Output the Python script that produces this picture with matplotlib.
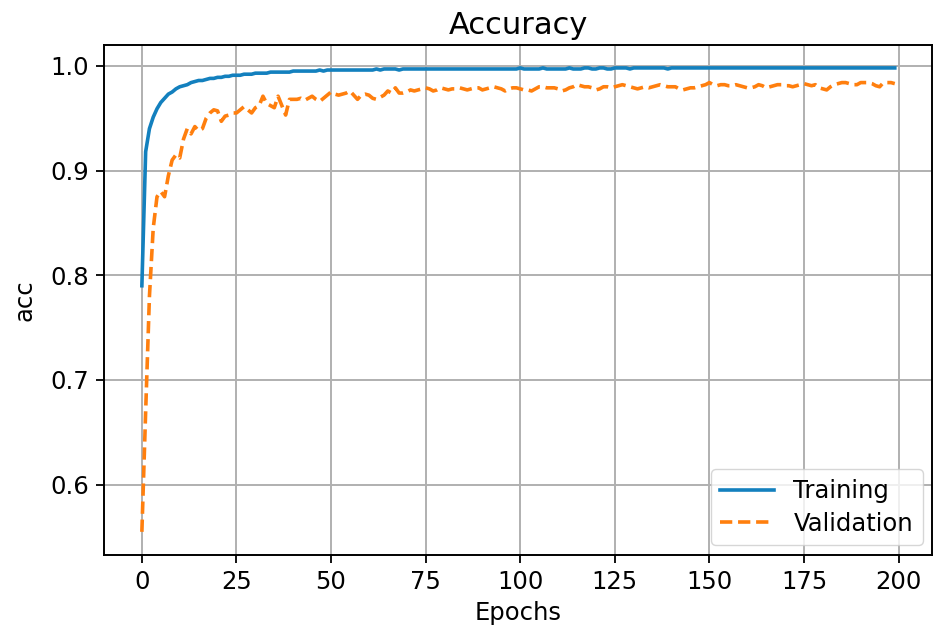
import matplotlib
matplotlib.use("Agg")
import matplotlib.pyplot as plt

title = "Accuracy"
xlabel = "Epochs"
ylabel = "acc"
series_names = ["Training", "Validation"]

training_acc = [
    0.790, 0.918, 0.940, 0.951, 0.959, 0.965, 0.969, 0.973, 0.975, 0.978,
    0.980, 0.981, 0.982, 0.984, 0.985, 0.986, 0.986, 0.987, 0.988, 0.988,
    0.989, 0.989, 0.990, 0.990, 0.991, 0.991, 0.991, 0.992, 0.992, 0.992,
    0.993, 0.993, 0.993, 0.993, 0.994, 0.994, 0.994, 0.994, 0.994, 0.994,
    0.995, 0.995, 0.995, 0.995, 0.995, 0.995, 0.995, 0.996, 0.995, 0.996,
    0.996, 0.996, 0.996, 0.996, 0.996, 0.996, 0.996, 0.996, 0.996, 0.996,
    0.996, 0.996, 0.997, 0.996, 0.997, 0.997, 0.997, 0.997, 0.996, 0.997,
    0.997, 0.997, 0.997, 0.997, 0.997, 0.997, 0.997, 0.997, 0.997, 0.997,
    0.997, 0.997, 0.997, 0.997, 0.997, 0.997, 0.997, 0.997, 0.997, 0.997,
    0.997, 0.997, 0.997, 0.997, 0.997, 0.997, 0.997, 0.997, 0.997, 0.997,
    0.998, 0.997, 0.997, 0.997, 0.997, 0.997, 0.998, 0.997, 0.997, 0.997,
    0.997, 0.997, 0.997, 0.998, 0.997, 0.997, 0.997, 0.998, 0.998, 0.997,
    0.997, 0.998, 0.998, 0.997, 0.997, 0.998, 0.998, 0.998, 0.998, 0.997,
    0.998, 0.998, 0.998, 0.998, 0.998, 0.998, 0.998, 0.998, 0.998, 0.997,
    0.998, 0.998, 0.998, 0.998, 0.998, 0.998, 0.998, 0.998, 0.998, 0.998,
    0.998, 0.998, 0.998, 0.998, 0.998, 0.998, 0.998, 0.998, 0.998, 0.998,
    0.998, 0.998, 0.998, 0.998, 0.998, 0.998, 0.998, 0.998, 0.998, 0.998,
    0.998, 0.998, 0.998, 0.998, 0.998, 0.998, 0.998, 0.998, 0.998, 0.998,
    0.998, 0.998, 0.998, 0.998, 0.998, 0.998, 0.998, 0.998, 0.998, 0.998,
    0.998, 0.998, 0.998, 0.998, 0.998, 0.998, 0.998, 0.998, 0.998, 0.998,
]

validation_acc = [
    0.555, 0.670, 0.780, 0.845, 0.875, 0.880, 0.875, 0.895, 0.910, 0.915,
    0.912, 0.930, 0.940, 0.935, 0.942, 0.938, 0.940, 0.950, 0.955, 0.958,
    0.957, 0.947, 0.952, 0.953, 0.955, 0.955, 0.958, 0.961, 0.958, 0.955,
    0.960, 0.962, 0.971, 0.964, 0.962, 0.960, 0.971, 0.962, 0.953, 0.968,
    0.968, 0.968, 0.969, 0.967, 0.969, 0.971, 0.968, 0.966, 0.969, 0.972,
    0.975, 0.973, 0.972, 0.973, 0.974, 0.976, 0.972, 0.968, 0.972, 0.973,
    0.972, 0.969, 0.968, 0.970, 0.972, 0.976, 0.974, 0.979, 0.974, 0.974,
    0.975, 0.977, 0.976, 0.977, 0.978, 0.979, 0.978, 0.976, 0.977, 0.979,
    0.978, 0.977, 0.978, 0.978, 0.979, 0.978, 0.977, 0.978, 0.979, 0.979,
    0.977, 0.978, 0.979, 0.980, 0.979, 0.978, 0.976, 0.978, 0.979, 0.979,
    0.978, 0.977, 0.977, 0.976, 0.978, 0.980, 0.980, 0.979, 0.979, 0.979,
    0.978, 0.976, 0.977, 0.979, 0.980, 0.982, 0.981, 0.980, 0.980, 0.979,
    0.977, 0.978, 0.980, 0.980, 0.979, 0.980, 0.981, 0.982, 0.981, 0.980,
    0.979, 0.978, 0.979, 0.980, 0.979, 0.980, 0.981, 0.982, 0.981, 0.980,
    0.980, 0.980, 0.978, 0.977, 0.978, 0.979, 0.979, 0.980, 0.981, 0.982,
    0.984, 0.982, 0.981, 0.982, 0.982, 0.981, 0.981, 0.982, 0.981, 0.980,
    0.979, 0.979, 0.980, 0.982, 0.981, 0.979, 0.980, 0.981, 0.982, 0.982,
    0.981, 0.981, 0.980, 0.981, 0.982, 0.983, 0.982, 0.981, 0.982, 0.979,
    0.978, 0.977, 0.980, 0.982, 0.983, 0.984, 0.984, 0.983, 0.982, 0.982,
    0.984, 0.984, 0.984, 0.983, 0.981, 0.980, 0.984, 0.984, 0.984, 0.983,
]

epochs = list(range(len(training_acc)))

fig = plt.figure(figsize=(9.39, 6.30), dpi=100)
ax = fig.add_axes([0.111, 0.119, 0.882, 0.810])

ax.plot(epochs, training_acc, color="#1380be", linewidth=2.6, label=series_names[0])
ax.plot(epochs, validation_acc, color="#ff7f0e", linewidth=2.6, linestyle="--",
        dashes=(3.4, 1.6), label=series_names[1])

ax.set_title(title, fontsize=22, pad=8)
ax.set_xlabel(xlabel, fontsize=17.5, labelpad=5)
ax.set_ylabel(ylabel, fontsize=17.5, labelpad=10)
ax.set_xticks([0, 25, 50, 75, 100, 125, 150, 175, 200])
ax.set_yticks([0.6, 0.7, 0.8, 0.9, 1.0])
ax.tick_params(labelsize=17.5, length=6, width=1.3, pad=5)
ax.grid(True, color="#b0b0b0", linewidth=1.4)
for s in ax.spines.values():
    s.set_linewidth(1.4)
ax.legend(loc="lower right", fontsize=17.5, handlelength=2.2,
          borderaxespad=0.4, labelspacing=0.35)

fig.savefig("out.png", dpi=100)
